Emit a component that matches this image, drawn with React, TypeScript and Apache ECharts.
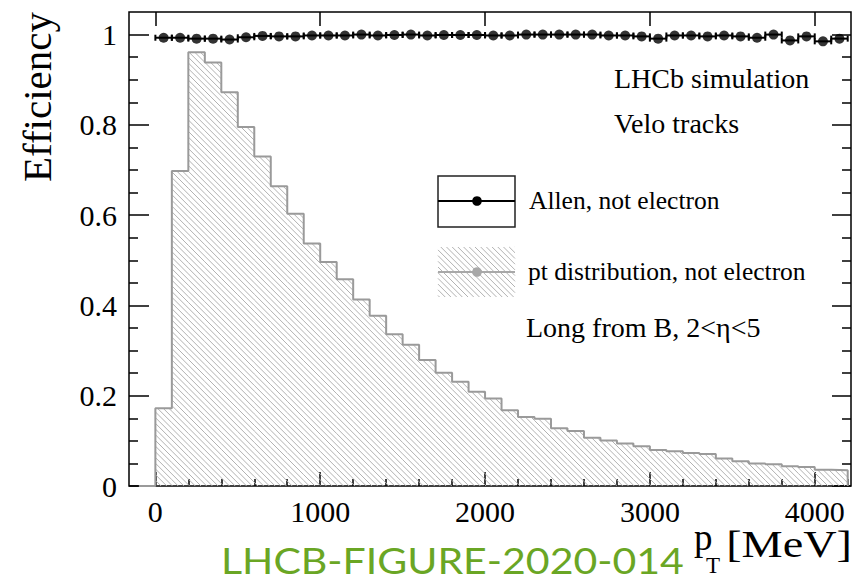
import React, { useEffect, useRef } from "react";
import * as echarts from "echarts";

// ---------------- data ----------------
const binStarts = [
  0, 100, 200, 300, 400, 500, 600, 700, 800, 900, 1000, 1100, 1200, 1300, 1400,
  1500, 1600, 1700, 1800, 1900, 2000, 2100, 2200, 2300, 2400, 2500, 2600, 2700,
  2800, 2900, 3000, 3100, 3200, 3300, 3400, 3500, 3600, 3700, 3800, 3900, 4000, 4100,
];
const binWidth = 100;
const ptDistribution = [
  0.172, 0.698, 0.961, 0.938, 0.872, 0.795, 0.73, 0.664, 0.603, 0.537, 0.496,
  0.458, 0.413, 0.377, 0.336, 0.313, 0.279, 0.251, 0.231, 0.209, 0.194, 0.168,
  0.153, 0.149, 0.128, 0.122, 0.107, 0.101, 0.094, 0.088, 0.08, 0.077, 0.073,
  0.071, 0.061, 0.055, 0.05, 0.048, 0.044, 0.042, 0.036, 0.035,
];
const allenEfficiency = [
  0.993, 0.993, 0.991, 0.991, 0.989, 0.994, 0.997, 0.996, 0.996, 0.998, 0.998,
  0.998, 1.0, 0.998, 0.999, 1.0, 0.998, 0.999, 0.999, 0.999, 0.998, 0.998, 1.0,
  1.0, 1.0, 1.0, 1.0, 0.998, 0.998, 0.996, 0.991, 0.998, 0.998, 0.996, 0.998,
  0.996, 0.993, 1.0, 0.987, 0.996, 0.985, 0.991,
];
const xMajorTicks = [0, 1000, 2000, 3000, 4000];
const xMinorTicks = [
  200, 400, 600, 800, 1200, 1400, 1600, 1800, 2200, 2400, 2600, 2800, 3200, 3400,
  3600, 3800, 4200,
];
const yMajorTicks = [0, 0.2, 0.4, 0.6, 0.8, 1];
const yMinorTicks = [
  0.05, 0.1, 0.15, 0.25, 0.3, 0.35, 0.45, 0.5, 0.55, 0.65, 0.7, 0.75, 0.85, 0.9, 0.95,
];

// ---------------- style ----------------
const SERIF = '"Liberation Serif", "Times New Roman", serif';
const X_MIN = -160;
const X_MAX = 4220;
const Y_MIN = 0;
const Y_MAX = 1.05;
const HATCH_STEP = 5.7;
const HATCH_COLOR = "#b2b2b2";
const OUTLINE_COLOR = "#9a9a9a";

function hatchSegments(L: number, T: number, R: number, B: number, s: number) {
  const segs: number[][] = [];
  const kMin = Math.ceil((T - R) / s);
  const kMax = Math.floor((B - L) / s);
  for (let k = kMin; k <= kMax; k++) {
    const c = k * s;
    const xa = Math.max(L, T - c);
    const xb = Math.min(R, B - c);
    if (xb > xa) segs.push([xa, xa + c, xb, xb + c]);
  }
  return segs;
}

function buildOption() {
  const tickLine = { color: "#000", width: 1.5 };
  const baseX: any = {
    type: "value",
    min: X_MIN,
    max: X_MAX,
    splitLine: { show: false },
    axisLine: { show: false, onZero: false },
    axisLabel: { show: false },
    axisTick: { show: false },
  };
  const baseY: any = {
    type: "value",
    min: Y_MIN,
    max: Y_MAX,
    splitLine: { show: false },
    axisLine: { show: false, onZero: false },
    axisLabel: { show: false },
    axisTick: { show: false },
  };

  const histData = binStarts.map((b, i) => [b, b + binWidth, ptDistribution[i]]);
  const outline: number[][] = [[binStarts[0] - binWidth, 0]];
  binStarts.forEach((b, i) => outline.push([b, ptDistribution[i]]));
  const lastEnd = binStarts[binStarts.length - 1] + binWidth;
  outline.push([lastEnd, ptDistribution[ptDistribution.length - 1]]);
  outline.push([lastEnd, 0]);

  const effData = binStarts.map((b, i) => [b + binWidth / 2, allenEfficiency[i]]);

  const legendHatch = hatchSegments(438, 247, 515, 297, HATCH_STEP).map((s) => ({
    type: "line",
    silent: true,
    shape: { x1: s[0], y1: s[1], x2: s[2], y2: s[3] },
    style: { stroke: HATCH_COLOR, lineWidth: 1 },
  }));

  const textStyle = (text: string, size: number) => ({
    text,
    fontSize: size,
    fontFamily: SERIF,
    fill: "#000",
    align: "left",
    verticalAlign: "middle",
  });

  return {
    animation: false,
    backgroundColor: "#fff",
    grid: {
      left: 129,
      top: 12,
      width: 722,
      height: 474,
      show: true,
      borderColor: "#000",
      borderWidth: 1.5,
      backgroundColor: "transparent",
    },
    xAxis: [
      {
        ...baseX,
        position: "bottom",
        axisLabel: {
          show: true,
          customValues: xMajorTicks,
          formatter: (v: number) => String(v),
          fontFamily: SERIF,
          fontSize: 30,
          color: "#000",
          margin: 10,
        },
        axisTick: { show: true, inside: true, length: 14, customValues: xMajorTicks, lineStyle: tickLine },
      },
      {
        ...baseX,
        position: "bottom",
        axisTick: { show: true, inside: true, length: 7, customValues: xMinorTicks, lineStyle: tickLine },
      },
      {
        ...baseX,
        position: "top",
        axisTick: { show: true, inside: true, length: 14, customValues: xMajorTicks, lineStyle: tickLine },
      },
    ],
    yAxis: [
      {
        ...baseY,
        position: "left",
        axisLabel: {
          show: true,
          customValues: yMajorTicks,
          formatter: (v: number) => String(v),
          fontFamily: SERIF,
          fontSize: 30,
          color: "#000",
          margin: 12,
        },
        axisTick: { show: true, inside: true, length: 20, customValues: yMajorTicks, lineStyle: tickLine },
      },
      {
        ...baseY,
        position: "left",
        axisTick: { show: true, inside: true, length: 9, customValues: yMinorTicks, lineStyle: tickLine },
      },
      {
        ...baseY,
        position: "right",
        axisTick: { show: true, inside: true, length: 19, customValues: yMajorTicks, lineStyle: tickLine },
      },
      {
        ...baseY,
        position: "right",
        axisTick: { show: true, inside: true, length: 9, customValues: yMinorTicks, lineStyle: tickLine },
      },
    ],
    series: [
      {
        name: "pt distribution, not electron",
        type: "custom",
        xAxisIndex: 0,
        yAxisIndex: 0,
        z: 1,
        silent: true,
        data: histData,
        renderItem: (_params: any, api: any) => {
          const x0 = api.value(0);
          const x1 = api.value(1);
          const v = api.value(2);
          const tl = api.coord([x0, v]);
          const br = api.coord([x1, 0]);
          const segs = hatchSegments(tl[0], tl[1], br[0], br[1], HATCH_STEP);
          return {
            type: "group",
            children: segs.map((s) => ({
              type: "line",
              shape: { x1: s[0], y1: s[1], x2: s[2], y2: s[3] },
              style: { stroke: HATCH_COLOR, lineWidth: 1 },
            })),
          };
        },
      },
      {
        name: "pt outline",
        type: "line",
        xAxisIndex: 0,
        yAxisIndex: 0,
        z: 2,
        step: "end",
        showSymbol: false,
        symbol: "none",
        silent: true,
        data: outline,
        lineStyle: { color: OUTLINE_COLOR, width: 2 },
      },
      {
        name: "Allen error bars",
        type: "custom",
        xAxisIndex: 0,
        yAxisIndex: 0,
        z: 3,
        silent: true,
        data: effData,
        renderItem: (_params: any, api: any) => {
          const c = api.value(0);
          const e = api.value(1);
          const a = api.coord([c - binWidth / 2, e]);
          const b = api.coord([c + binWidth / 2, e]);
          const st = { stroke: "#000", lineWidth: 2 };
          return {
            type: "group",
            children: [
              { type: "line", shape: { x1: a[0], y1: a[1], x2: b[0], y2: b[1] }, style: st },
              { type: "line", shape: { x1: a[0], y1: a[1] - 3, x2: a[0], y2: a[1] + 3 }, style: st },
              { type: "line", shape: { x1: b[0], y1: b[1] - 3, x2: b[0], y2: b[1] + 3 }, style: st },
            ],
          };
        },
      },
      {
        name: "Allen, not electron",
        type: "scatter",
        xAxisIndex: 0,
        yAxisIndex: 0,
        z: 4,
        symbol: "circle",
        symbolSize: 10,
        itemStyle: { color: "#000" },
        data: effData,
      },
    ],
    graphic: [
      // legend entry 1
      {
        type: "rect",
        z: 10,
        shape: { x: 438, y: 176, width: 77, height: 51 },
        style: { fill: "#fff", stroke: "#222", lineWidth: 1.5 },
      },
      { type: "line", z: 11, shape: { x1: 438, y1: 201, x2: 515, y2: 201 }, style: { stroke: "#000", lineWidth: 2 } },
      { type: "circle", z: 11, shape: { cx: 477, cy: 201, r: 4.8 }, style: { fill: "#000" } },
      // legend entry 2
      { type: "group", z: 10, children: legendHatch },
      { type: "line", z: 11, shape: { x1: 438, y1: 272, x2: 515, y2: 272 }, style: { stroke: "#a8a8a8", lineWidth: 2 } },
      { type: "circle", z: 11, shape: { cx: 477, cy: 272, r: 4.8 }, style: { fill: "#a8a8a8" } },
      // texts
      { type: "text", z: 12, x: 614, y: 78, style: textStyle("LHCb simulation", 28) },
      { type: "text", z: 12, x: 614, y: 123, style: textStyle("Velo tracks", 28) },
      { type: "text", z: 12, x: 529, y: 200, style: textStyle("Allen, not electron", 25.5) },
      { type: "text", z: 12, x: 528, y: 271.5, style: textStyle("pt distribution, not electron", 25.5) },
      { type: "text", z: 12, x: 526, y: 327, style: textStyle("Long from B, 2<η<5", 28) },
      // axis titles
      {
        type: "text",
        z: 12,
        x: 37,
        y: 12,
        rotation: Math.PI / 2,
        style: { text: "Efficiency", fontSize: 41, fontFamily: SERIF, fill: "#000", align: "right", verticalAlign: "middle" },
      },
      {
        type: "text",
        z: 12,
        x: 694,
        y: 519,
        style: {
          text: "{p|p}{s|T}",
          align: "left",
          verticalAlign: "top",
          fill: "#000",
          rich: {
            p: { fontSize: 37, fontFamily: SERIF, fill: "#000", verticalAlign: "top", width: 12 },
            s: { fontSize: 23, fontFamily: SERIF, fill: "#000", verticalAlign: "top", padding: [34.7, 0, 0, 0] },
          },
        },
      },
      {
        type: "text",
        z: 12,
        x: 852,
        y: 544.5,
        scaleX: 1.25,
        style: { text: "[MeV]", fontSize: 37, fontFamily: SERIF, fill: "#000", align: "right", verticalAlign: "middle" },
      },
      {
        type: "text",
        z: 12,
        x: 221,
        y: 560,
        scaleX: 1.14,
        style: {
          text: "LHCB-FIGURE-2020-014",
          fontSize: 36,
          fontFamily: 'Lato, "Open Sans", sans-serif',
          fill: "#6aa624",
          align: "left",
          verticalAlign: "middle",
        },
      },
    ],
  };
}

export default function App() {
  const ref = useRef<HTMLDivElement>(null);
  useEffect(() => {
    if (!ref.current) return;
    const chart = echarts.init(ref.current, null, { renderer: "svg" });
    chart.setOption(buildOption() as any);
    return () => chart.dispose();
  }, []);
  return (
    <div
      ref={ref}
      style={{ position: "absolute", left: 0, top: 0, width: 861, height: 582, background: "#fff" }}
    />
  );
}
